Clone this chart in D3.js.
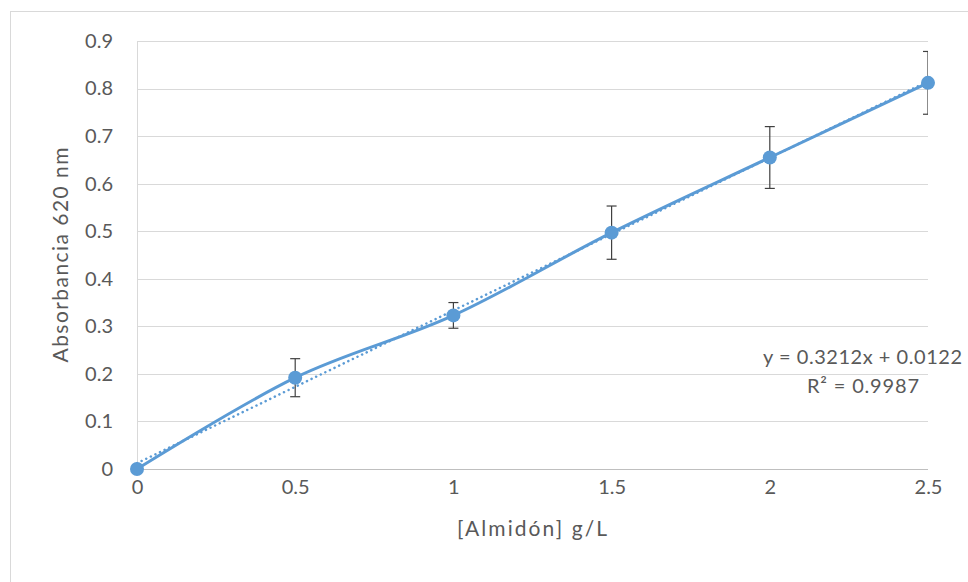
<!DOCTYPE html>
<html>
<head>
<meta charset="utf-8">
<script src="https://cdn.jsdelivr.net/npm/d3@7"></script>
<style>
  body { margin: 0; background: #fff; }
  svg { display: block; }
  text { font-family: Lato, "Open Sans", sans-serif; fill: #595959; }
</style>
</head>
<body>
<div id="chart"></div>
<script>
// concentration (g/L) vs absorbance at 620 nm
const conc = [0, 0.5, 1, 1.5, 2, 2.5];
const absorb = [0, 0.192, 0.323, 0.497, 0.655, 0.812];
const errs = [0, 0.040, 0.027, 0.056, 0.065, 0.066];
const xTicks = [0, 0.5, 1, 1.5, 2, 2.5];
const yTicks = [0, 0.1, 0.2, 0.3, 0.4, 0.5, 0.6, 0.7, 0.8, 0.9];
const slope = 0.3212, intercept = 0.0122; // trendline
const eqLabel = 'y = 0.3212x + 0.0122';
const r2Label = 'R² = 0.9987';

const W = 968, H = 582;
const margin = {top: 41, right: 40, bottom: 113, left: 137};
const blue = '#5b9bd5';
const fs = '20px';

const svg = d3.select('#chart').append('svg')
  .attr('width', W).attr('height', H);

// chart area frame (only left/top visible in the crop)
svg.append('rect')
  .attr('x', 10.5).attr('y', 11.5)
  .attr('width', W + 20).attr('height', H + 20)
  .attr('fill', 'none').attr('stroke', '#d9d9d9');

const iw = W - margin.left - margin.right;
const ih = H - margin.top - margin.bottom;

const x = d3.scaleLinear().domain([0, 2.5]).range([0, iw]);
const y = d3.scaleLinear().domain([0, 0.9]).range([ih, 0]);

const g = svg.append('g')
  .attr('transform', 'translate(' + margin.left + ',' + margin.top + ')');

g.append('clipPath').attr('id', 'plot')
  .append('rect').attr('width', iw).attr('height', ih);

// gridlines
g.append('g')
  .selectAll('line').data(yTicks.slice(1))
  .enter().append('line')
  .attr('x1', 0).attr('x2', iw)
  .attr('y1', d => Math.round(y(d)) + 0.5).attr('y2', d => Math.round(y(d)) + 0.5)
  .attr('stroke', '#d9d9d9');

// axis lines
g.append('line')
  .attr('x1', 0).attr('x2', iw)
  .attr('y1', ih + 0.5).attr('y2', ih + 0.5)
  .attr('stroke', '#bfbfbf');
g.append('line')
  .attr('x1', 0.5).attr('x2', 0.5)
  .attr('y1', 0).attr('y2', ih)
  .attr('stroke', '#d9d9d9');

// tick labels
const xAxis = g.append('g')
  .attr('transform', 'translate(0,' + ih + ')')
  .call(d3.axisBottom(x).tickValues(xTicks).tickSize(0).tickPadding(11).tickFormat(d3.format('')));
xAxis.select('.domain').remove();
xAxis.selectAll('text').style('font-size', fs).attr('fill', '#595959');

const yAxis = g.append('g')
  .call(d3.axisLeft(y).tickValues(yTicks).tickSize(0).tickPadding(24).tickFormat(d3.format('')));
yAxis.select('.domain').remove();
yAxis.selectAll('text').style('font-size', fs).attr('fill', '#595959');

// axis titles
g.append('text')
  .attr('x', 395).attr('y', ih + 67)
  .attr('text-anchor', 'middle')
  .style('font-size', '21px')
  .attr('textLength', 150).attr('lengthAdjust', 'spacing')
  .text('[Almidón] g/L');
g.append('text')
  .attr('transform', 'translate(' + (-69) + ',' + (ih / 2) + ') rotate(-90)')
  .attr('text-anchor', 'middle')
  .style('font-size', '21px')
  .attr('textLength', 215).attr('lengthAdjust', 'spacing')
  .text('Absorbancia 620 nm');

// trendline (dotted)
g.append('line')
  .attr('x1', x(0)).attr('y1', y(intercept))
  .attr('x2', x(2.5)).attr('y2', y(slope * 2.5 + intercept))
  .attr('stroke', blue).attr('stroke-width', 2.5)
  .attr('stroke-dasharray', '0.1 5').attr('stroke-linecap', 'round');

// smoothed series line
const line = d3.line()
  .x((d, i) => x(conc[i]))
  .y(d => y(d))
  .curve(d3.curveCardinal.tension(0));
g.append('path')
  .datum(absorb)
  .attr('d', line)
  .attr('fill', 'none')
  .attr('stroke', blue).attr('stroke-width', 3);

// error bars
const eb = g.append('g').attr('clip-path', 'url(#plot)')
  .attr('stroke', '#404040').attr('stroke-width', 1.2)
  .selectAll('g').data(absorb.map((v, i) => ({x: conc[i], v: v, e: errs[i]})).filter(d => d.e > 0))
  .enter().append('g');
eb.append('line')
  .attr('x1', d => x(d.x)).attr('x2', d => x(d.x))
  .attr('y1', d => y(d.v + d.e)).attr('y2', d => y(d.v - d.e));
eb.append('line')
  .attr('x1', d => x(d.x) - 5).attr('x2', d => x(d.x) + 5)
  .attr('y1', d => y(d.v + d.e)).attr('y2', d => y(d.v + d.e));
eb.append('line')
  .attr('x1', d => x(d.x) - 5).attr('x2', d => x(d.x) + 5)
  .attr('y1', d => y(d.v - d.e)).attr('y2', d => y(d.v - d.e));

// markers
g.selectAll('.dot').data(absorb)
  .enter().append('circle')
  .attr('class', 'dot')
  .attr('cx', (d, i) => x(conc[i]))
  .attr('cy', d => y(d))
  .attr('r', 7)
  .attr('fill', blue);

// trendline label
g.append('text')
  .attr('x', W - margin.left - 6).attr('y', 323)
  .attr('text-anchor', 'end')
  .style('font-size', fs)
  .attr('textLength', 199).attr('lengthAdjust', 'spacing')
  .text(eqLabel);
g.append('text')
  .attr('x', W - margin.left - 49).attr('y', 352)
  .attr('text-anchor', 'end')
  .style('font-size', fs)
  .attr('textLength', 112).attr('lengthAdjust', 'spacing')
  .text(r2Label);
</script>
</body>
</html>
